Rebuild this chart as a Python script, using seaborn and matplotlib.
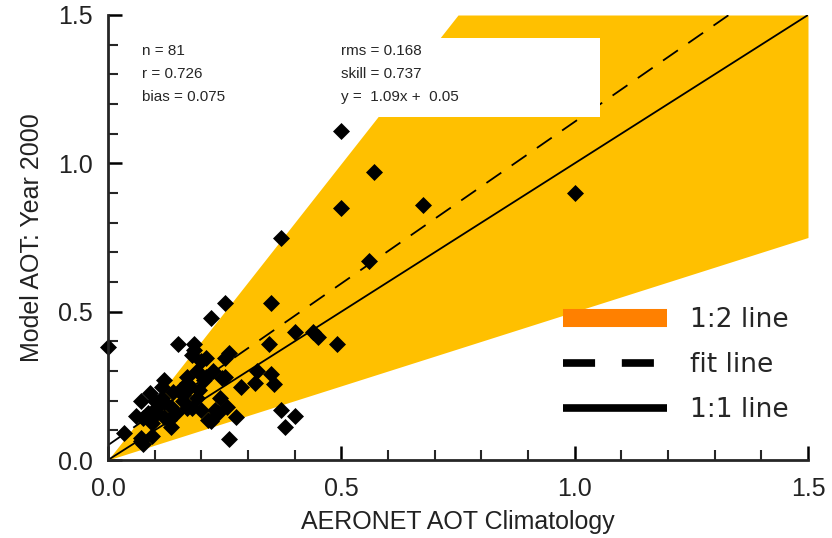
import numpy as np
import pandas as pd
import matplotlib
matplotlib.use("Agg")
import matplotlib.pyplot as plt
from matplotlib.patches import Rectangle
from matplotlib.lines import Line2D
from matplotlib.ticker import MultipleLocator
import seaborn as sns

# ---- data ----
aeronet = [0.00, 0.50, 0.57, 0.50, 0.675, 1.00, 0.37, 0.56, 0.35, 0.40,
           0.44, 0.45, 0.49, 0.345, 0.32, 0.315, 0.35, 0.355, 0.37, 0.40,
           0.38, 0.25, 0.22, 0.26, 0.25, 0.245, 0.285, 0.26, 0.22, 0.235,
           0.255, 0.275, 0.20, 0.24, 0.15,
           0.035, 0.07, 0.075, 0.07, 0.095, 0.07, 0.09, 0.12, 0.115, 0.085,
           0.075, 0.105, 0.105, 0.095, 0.12, 0.135, 0.13, 0.12, 0.115, 0.135,
           0.16, 0.16, 0.155, 0.175, 0.17, 0.17, 0.185, 0.185, 0.18, 0.20,
           0.19, 0.205, 0.21, 0.21, 0.195, 0.18, 0.17, 0.23, 0.215, 0.25,
           0.14, 0.10, 0.145, 0.19, 0.06, 0.225]
model = [0.38, 1.11, 0.97, 0.85, 0.86, 0.90, 0.75, 0.67, 0.53, 0.43,
         0.43, 0.415, 0.39, 0.39, 0.30, 0.26, 0.29, 0.255, 0.17, 0.15,
         0.11, 0.53, 0.48, 0.36, 0.345, 0.275, 0.245, 0.07, 0.13, 0.16,
         0.18, 0.145, 0.17, 0.21, 0.39,
         0.09, 0.075, 0.055, 0.065, 0.08, 0.20, 0.225, 0.27, 0.245, 0.16,
         0.14, 0.18, 0.16, 0.125, 0.145, 0.11, 0.135, 0.195, 0.21, 0.18,
         0.20, 0.22, 0.235, 0.245, 0.26, 0.28, 0.37, 0.39, 0.355, 0.335,
         0.30, 0.27, 0.28, 0.345, 0.235, 0.175, 0.175, 0.17, 0.135, 0.28,
         0.23, 0.20, 0.16, 0.21, 0.15, 0.30]

stats_left = ["n = 81", "r = 0.726", "bias = 0.075"]
stats_right = ["rms = 0.168", "skill = 0.737", "y =  1.09x +  0.05"]
fit_slope, fit_icpt = 1.09, 0.05
legend_labels = ["1:2 line", "fit line", "1:1 line"]
x_label = "AERONET AOT Climatology"
y_label = "Model AOT: Year 2000"

df = pd.DataFrame({"aeronet": aeronet, "model": model})

sns.set_style("ticks")
plt.rcParams["font.family"] = ["Liberation Sans", "DejaVu Sans"]

fig = plt.figure(figsize=(8.32, 5.38), dpi=100)
ax = fig.add_axes([108/832, 78/538, 700/832, 445/538])

# 1:2 band
xb = np.linspace(0, 1.5, 301)
ax.fill_between(xb, 0.5 * xb, np.minimum(2 * xb, 1.5), color="#FFC000", lw=0, zorder=1)

# lines
line_df = pd.DataFrame({"x": [0, 1.5], "y11": [0, 1.5]})
sns.lineplot(data=line_df, x="x", y="y11", ax=ax, color="black", lw=1.3, zorder=2)
xf = np.array([0, (1.5 - fit_icpt) / fit_slope])
fit_df = pd.DataFrame({"x": xf, "y": fit_slope * xf + fit_icpt})
sns.lineplot(data=fit_df, x="x", y="y", ax=ax, color="black", lw=1.3,
             linestyle=(0, (10, 7)), zorder=2)

# points
sns.scatterplot(data=df, x="aeronet", y="model", ax=ax, marker="D", s=75,
                color="black", edgecolor="black", linewidth=0, zorder=3, clip_on=False)

# white stats box
ax.add_patch(Rectangle((0.48, 1.156), 1.054 - 0.48, 1.422 - 1.156,
                       facecolor="white", edgecolor="none", zorder=4))
for i, t in enumerate(stats_left):
    ax.text(0.073, 1.38 - i * 0.079, t, fontsize=11, zorder=5, va="center")
for i, t in enumerate(stats_right):
    ax.text(0.50, 1.38 - i * 0.079, t, fontsize=11, zorder=5, va="center")

ax.set_xlim(0, 1.5)
ax.set_ylim(0, 1.5)
ax.set_xlabel(x_label, fontsize=18, color="#222222", labelpad=7)
ax.set_ylabel(y_label, fontsize=18, color="#222222", labelpad=10)
ax.xaxis.set_major_locator(MultipleLocator(0.5))
ax.xaxis.set_minor_locator(MultipleLocator(0.1))
ax.yaxis.set_major_locator(MultipleLocator(0.5))
ax.yaxis.set_minor_locator(MultipleLocator(0.1))
ax.set_xticklabels([f"{v:.1f}" for v in ax.get_xticks()])
ax.set_yticklabels([f"{v:.1f}" for v in ax.get_yticks()])
ax.tick_params(which="major", direction="in", length=10, width=1.8, labelsize=18,
               colors="black", labelcolor="#222222")
ax.tick_params(axis="x", which="major", pad=12)
ax.tick_params(axis="y", which="major", pad=11)
ax.tick_params(which="minor", direction="in", length=7, width=1.5)
sns.despine(ax=ax)
for s in ["left", "bottom"]:
    ax.spines[s].set_linewidth(2)
    ax.spines[s].set_zorder(6)

handles = [Line2D([], [], color="#FF8000", lw=13, solid_capstyle="butt"),
           Line2D([], [], color="black", lw=5.5, linestyle=(0, (4.2, 3.5)), dash_capstyle="butt"),
           Line2D([], [], color="black", lw=5.5, solid_capstyle="butt")]
ax.legend(handles, legend_labels, loc="upper left", bbox_to_anchor=(0.65, 0.343),
          frameon=False, handlelength=3.95, handletextpad=0.85,
          labelspacing=0.72, borderpad=0, borderaxespad=0,
          prop={"family": ["DejaVu Sans"], "size": 19})

fig.savefig("out.png", dpi=100)
